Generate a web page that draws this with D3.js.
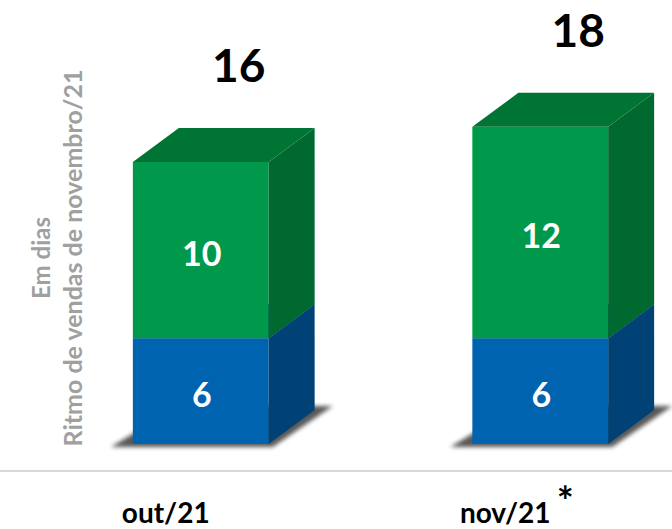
<!DOCTYPE html>
<html>
<head>
<meta charset="utf-8">
<script src="https://cdn.jsdelivr.net/npm/d3@7"></script>
<style>
  html, body { margin: 0; padding: 0; background: #fff; }
  svg { display: block; }
  text { font-family: Lato, "Open Sans", sans-serif; font-weight: bold; }
</style>
</head>
<body>
<svg></svg>
<script>
const categories = ['out/21', 'nov/21'];
const seriesNames = ['base', 'adicional'];
const baseValues = [6, 6];
const extraValues = [10, 12];
const totals = [16, 18];
const catSuffix = ['', '*'];

const width = 672;
const height = 529;
const depth = { dx: 46, dy: -34 };

const colors = {
  base: { front: '#0063af', side: '#004276', top: '#004f8e' },
  adicional: { front: '#00984a', side: '#00692f', top: '#007433' }
};

const svg = d3.select('svg')
  .attr('width', width)
  .attr('height', height);

const defs = svg.append('defs');
defs.append('filter')
  .attr('id', 'blur')
  .attr('x', '-20%').attr('y', '-50%')
  .attr('width', '140%').attr('height', '200%')
  .append('feGaussianBlur')
  .attr('stdDeviation', 2.2);

const x = d3.scaleBand()
  .domain(categories)
  .range([31, 710])
  .paddingInner(0.6)
  .paddingOuter(0.3);

const y = d3.scaleLinear()
  .domain([0, 16])
  .range([444, 162]);

const stackData = categories.map((c, i) => ({ cat: c, base: baseValues[i], adicional: extraValues[i] }));
const stacked = d3.stack().keys(seriesNames)(stackData);

// baseline
svg.append('line')
  .attr('x1', 0).attr('x2', width)
  .attr('y1', 471).attr('y2', 471)
  .attr('stroke', '#d9d9d9')
  .attr('stroke-width', 2);

// shadows
const bw = x.bandwidth();
svg.selectAll('.shadow')
  .data(categories)
  .enter()
  .append('polygon')
  .attr('class', 'shadow')
  .attr('fill', '#3a3a3a')
  .attr('opacity', 0.85)
  .attr('filter', 'url(#blur)')
  .attr('points', c => {
    const x0 = x(c), x1 = x(c) + bw, y0 = y(0);
    return [
      [x0 - 22, y0 + 3],
      [x1 + 4, y0 + 3],
      [x1 + depth.dx + 18, y0 + depth.dy - 4],
      [x0 + depth.dx, y0 + depth.dy - 4]
    ].map(p => p.join(',')).join(' ');
  });

stacked.forEach(layer => {
  const col = colors[layer.key];
  layer.forEach((d, i) => {
    const c = categories[i];
    const x0 = x(c), x1 = x(c) + bw;
    const yb = y(d[0]), yt = y(d[1]);
    const g = svg.append('g');
    // front
    g.append('rect')
      .attr('x', x0).attr('y', yt)
      .attr('width', bw).attr('height', yb - yt)
      .attr('fill', col.front);
    // side
    g.append('polygon')
      .attr('fill', col.side)
      .attr('points', [[x1, yt], [x1 + depth.dx, yt + depth.dy], [x1 + depth.dx, yb + depth.dy], [x1, yb]].map(p => p.join(',')).join(' '));
    // top
    g.append('polygon')
      .attr('fill', col.top)
      .attr('points', [[x0, yt], [x0 + depth.dx, yt + depth.dy], [x1 + depth.dx, yt + depth.dy], [x1, yt]].map(p => p.join(',')).join(' '));
    // value label
    g.append('text')
      .attr('x', x0 + bw / 2 + 1)
      .attr('y', (yb + yt) / 2 + 4)
      .attr('dy', '0.35em')
      .attr('text-anchor', 'middle')
      .attr('fill', '#fff')
      .attr('font-size', 34)
      .text(d[1] - d[0]);
  });
});

// totals
svg.selectAll('.total')
  .data(categories)
  .enter()
  .append('text')
  .attr('class', 'total')
  .attr('x', c => x(c) + bw / 2 + 38)
  .attr('y', (c, i) => y(totals[i]) + depth.dy - 46)
  .attr('text-anchor', 'middle')
  .attr('fill', '#000')
  .attr('font-size', 46)
  .text((c, i) => totals[i]);

// category labels
const cat = svg.selectAll('.cat')
  .data(categories)
  .enter()
  .append('g')
  .attr('class', 'cat');

cat.append('text')
  .attr('x', c => x(c) + bw / 2 - 35)
  .attr('y', 523)
  .attr('text-anchor', 'middle')
  .attr('fill', '#000')
  .attr('font-size', 28)
  .text(c => c);

cat.append('text')
  .attr('x', c => x(c) + bw / 2 + 25)
  .attr('y', 516)
  .attr('text-anchor', 'middle')
  .attr('fill', '#000')
  .attr('font-size', 40)
  .text((c, i) => catSuffix[i]);

// axis title
const title = svg.append('g')
  .attr('transform', 'translate(0,258) rotate(-90)');
title.append('text')
  .attr('x', 0).attr('y', 50)
  .attr('text-anchor', 'middle')
  .attr('fill', '#a0a0a0')
  .attr('font-size', 24)
  .text('Em dias');
title.append('text')
  .attr('x', 0).attr('y', 82)
  .attr('text-anchor', 'middle')
  .attr('fill', '#a0a0a0')
  .attr('font-size', 24)
  .attr('textLength', 377)
  .attr('lengthAdjust', 'spacingAndGlyphs')
  .text('Ritmo de vendas de novembro/21');
</script>
</body>
</html>
